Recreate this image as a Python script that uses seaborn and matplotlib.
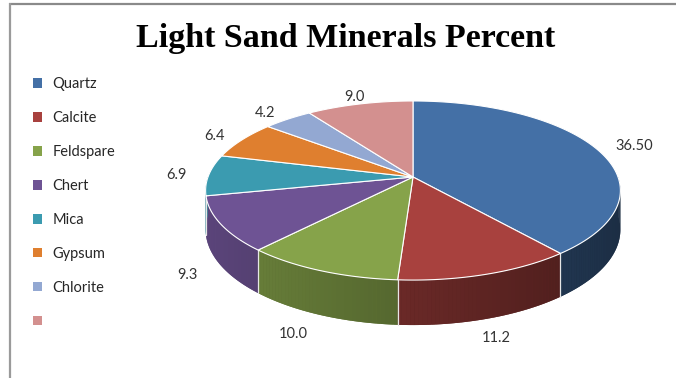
import numpy as np
import matplotlib
matplotlib.use('Agg')
import matplotlib.pyplot as plt
from matplotlib.patches import Patch
from matplotlib.colors import to_rgb
import seaborn as sns

# data
minerals = ['Quartz', 'Calcite', 'Feldspare', 'Chert', 'Mica', 'Gypsum', 'Chlorite', '']
percent = [36.50, 11.2, 10.0, 9.3, 6.9, 6.4, 4.2, 9.0]
value_labels = ['36.50', '11.2', '10.0', '9.3', '6.9', '6.4', '4.2', '9.0']
slice_colors = ['#4470a6', '#a8413e', '#86a34a', '#6e5394',
                '#3b9bb0', '#df7f2f', '#93a8d2', '#d3908f']

sns.set_theme(style='white')
plt.rcParams['font.family'] = ['Lato', 'DejaVu Sans']

# tilted pie geometry, in pixels of the 676x378 canvas
cx, cy = 413, 177
rad_x, rad_y = 205, 87.5
persp = 0.151
depth = 38.2


def project(t, r=1.0):
    """ Perspective projection of a point on the pie's top disc. """
    s = 1 + persp * r * np.sin(t)
    return cx + rad_x * r * np.cos(t) / s, cy - rad_y * r * np.sin(t) / s


def side_drop(t):
    return depth / (1 + persp * np.sin(t))


def shade(color, t):
    f = 0.62 - 0.22 * np.cos(t)
    return tuple(np.clip(np.array(to_rgb(color)) * f, 0, 1))


fig = plt.figure(figsize=(6.76, 3.78), dpi=100)
ax = fig.add_axes([0, 0, 1, 1])
ax.set_xlim(0, 676)
ax.set_ylim(378, 0)
ax.axis('off')

fracs = np.array(percent) / np.sum(percent)
edges = np.pi / 2 - 2 * np.pi * np.concatenate([[0], np.cumsum(fracs)])

# side walls (front half only): a solid base, then thin shaded strips
for i, color in enumerate(slice_colors):
    hi = min(edges[i], 0.0)
    lo = max(edges[i + 1], -np.pi)
    if lo >= hi:
        continue
    ts = np.linspace(hi, lo, max(int(np.degrees(hi - lo)), 2) + 1)
    tx, ty = project(ts)
    by = ty + side_drop(ts)
    ax.fill(np.r_[tx, tx[::-1]], np.r_[ty, by[::-1]],
            color=shade(color, (hi + lo) / 2), lw=0, zorder=2)
    for j in range(len(ts) - 1):
        c = shade(color, (ts[j] + ts[j + 1]) / 2)
        ax.fill([tx[j], tx[j + 1], tx[j + 1], tx[j]],
                [ty[j], ty[j + 1], by[j + 1], by[j]],
                color=c, lw=0, zorder=2.5)

# light seams between slices on the side wall
for t in edges:
    t = (t + np.pi) % (2 * np.pi) - np.pi
    if -np.pi < t < 0:
        x0, y0 = project(t)
        ax.plot([x0, x0], [y0, y0 + side_drop(t)], color='#e6e6e6', lw=0.9, zorder=3)

# top faces
for i, color in enumerate(slice_colors):
    ts = np.linspace(edges[i], edges[i + 1], 120)
    px, py = project(ts)
    ax.fill(np.r_[cx, px], np.r_[cy, py], color=color, ec='white', lw=0.8, zorder=4)

# value labels
for i, txt in enumerate(value_labels):
    mid = (edges[i] + edges[i + 1]) / 2
    lx, ly = project(mid, 1.11)
    if np.sin(mid) < 0:
        ly += side_drop(mid) - 7 * np.sin(mid)
    c = np.cos(mid)
    ha = 'left' if c > 0.35 else ('right' if c < -0.35 else 'center')
    ax.text(lx, ly, txt, ha=ha, va='center', fontsize=10.5, color='#333333', zorder=5)

ax.text(346, 39, 'Light Sand Minerals Percent', ha='center', va='center',
        fontsize=24.5, fontweight='bold', family='Liberation Serif', color='black')

handles = [Patch(facecolor=c, edgecolor='none') for c in slice_colors]
ax.legend(handles, minerals, loc='upper left', bbox_to_anchor=(33 / 676, 1 - 77 / 378),
          frameon=False, fontsize=10.5, handlelength=0.62, handleheight=0.62,
          handletextpad=0.7, labelspacing=1.37, borderpad=0, borderaxespad=0,
          labelcolor='#262626')

# chart frame (top and left edges are visible in the reference)
ax.plot([9, 676], [3.5, 3.5], color='#8a8a8a', lw=1.6, solid_capstyle='butt')
ax.plot([9.5, 9.5], [3, 378], color='#9a9a9a', lw=1.6, solid_capstyle='butt')

fig.savefig('out.png', dpi=100)
